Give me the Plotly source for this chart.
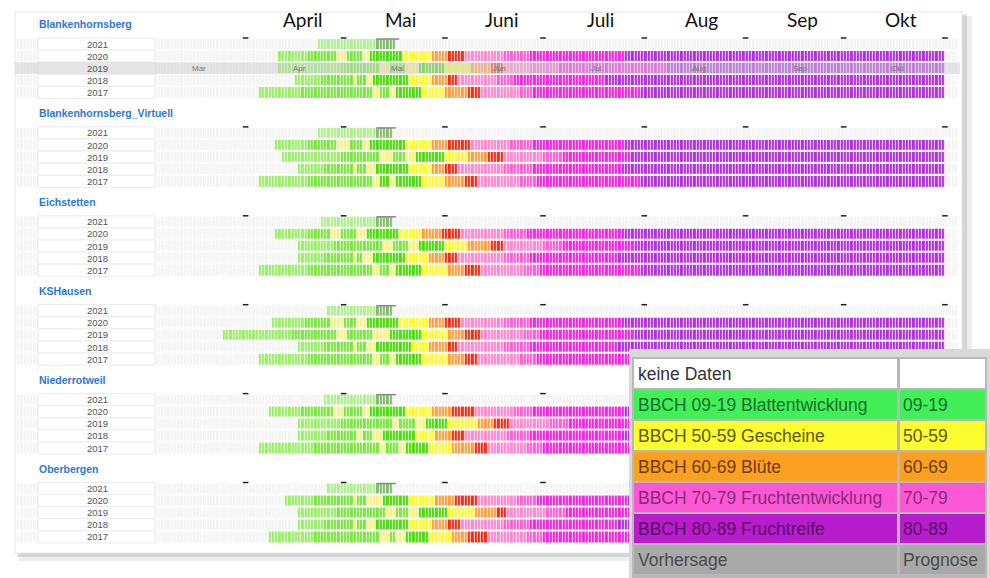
import plotly.graph_objects as go

W, H = 990, 578

# ---------------- data ----------------
STATIONS = ["Blankenhornsberg", "Blankenhornsberg_Virtuell", "Eichstetten",
            "KSHausen", "Niederrotweil", "Oberbergen"]
YEARS = ["2021", "2020", "2019", "2018", "2017"]
MONTHS_SHORT = ["Mar", "Apr", "Mai", "Jun", "Jul", "Aug", "Sep", "Okt"]
MONTH_LENGTHS = [31, 30, 31, 30, 31, 31, 30, 31]
TOP_MONTHS = ["April", "Mai", "Juni", "Juli", "Aug", "Sep", "Okt"]

# phase segments per year row: (start day counted from 1 March, phase code); last entry = end
blankenhornsberg = [
    [(53, "fg"), (71, "fc"), (77, None)],
    [(41, "lg"), (50, "g"), (59, "py"), (62, "g"), (67, "py"), (69, "bg"), (79, "y"), (88, "o"), (93, "r"), (98, "lp"), (110, "p"), (118, "m"), (147, "v"), (245, None)],
    [(41, "lg"), (60, "g"), (72, "py"), (75, "g"), (80, "py"), (84, "bg"), (92, "y"), (100, "o"), (106, "r"), (110, "lp"), (118, "p"), (127, "m"), (160, "v"), (245, None)],
    [(46, "lg"), (54, "g"), (64, "py"), (65, "g"), (68, "py"), (70, "bg"), (81, "y"), (88, "o"), (93, "r"), (96, "lp"), (108, "p"), (113, "m"), (141, "v"), (245, None)],
    [(35, "lg"), (48, "g"), (70, "py"), (72, "g"), (75, "py"), (77, "bg"), (85, "y"), (92, "o"), (99, "r"), (103, "lp"), (115, "p"), (119, "m"), (152, "v"), (245, None)],
]
blankenhornsberg_virtuell = [
    [(53, "fg"), (71, "fc"), (76, None)],
    [(40, "lg"), (50, "g"), (59, "py"), (63, "g"), (67, "py"), (69, "bg"), (80, "y"), (88, "o"), (93, "r"), (100, "lp"), (112, "p"), (119, "m"), (147, "v"), (245, None)],
    [(42, "lg"), (60, "g"), (72, "py"), (76, "g"), (80, "py"), (83, "bg"), (92, "y"), (99, "o"), (105, "r"), (110, "lp"), (122, "p"), (128, "m"), (149, "v"), (245, None)],
    [(47, "lg"), (55, "g"), (64, "py"), (65, "g"), (68, "py"), (71, "bg"), (81, "y"), (88, "o"), (92, "r"), (96, "lp"), (110, "p"), (119, "m"), (146, "v"), (245, None)],
    [(35, "lg"), (50, "g"), (70, "py"), (72, "bg"), (75, "py"), (77, "bg"), (85, "y"), (92, "o"), (98, "r"), (102, "lp"), (115, "p"), (120, "m"), (152, "v"), (245, None)],
]
eichstetten = [
    [(54, "fg"), (71, "fc"), (76, None)],
    [(40, "lg"), (50, "g"), (57, "py"), (60, "g"), (65, "py"), (68, "bg"), (78, "y"), (85, "o"), (91, "r"), (97, "lp"), (110, "p"), (117, "m"), (146, "v"), (245, None)],
    [(47, "lg"), (58, "g"), (73, "py"), (76, "g"), (81, "py"), (84, "bg"), (92, "y"), (99, "o"), (106, "r"), (110, "lp"), (122, "p"), (128, "m"), (150, "v"), (245, None)],
    [(47, "lg"), (55, "g"), (64, "py"), (65, "g"), (67, "py"), (70, "bg"), (80, "y"), (87, "o"), (92, "r"), (96, "lp"), (110, "p"), (118, "m"), (145, "v"), (245, None)],
    [(35, "lg"), (50, "g"), (70, "py"), (72, "g"), (75, "py"), (77, "bg"), (85, "y"), (93, "o"), (98, "r"), (103, "lp"), (116, "p"), (121, "m"), (152, "v"), (245, None)],
]
kshausen = [
    [(56, "fg"), (71, "fc"), (76, None)],
    [(39, "lg"), (49, "g"), (57, "py"), (61, "g"), (65, "py"), (68, "bg"), (78, "y"), (87, "o"), (92, "r"), (97, "lp"), (110, "p"), (118, "m"), (146, "v"), (245, None)],
    [(24, "lg"), (45, "g"), (59, "py"), (62, "g"), (70, "py"), (75, "bg"), (85, "y"), (93, "o"), (98, "r"), (103, "lp"), (116, "p"), (121, "m"), (150, "v"), (245, None)],
    [(47, "lg"), (55, "g"), (64, "py"), (65, "g"), (68, "py"), (71, "bg"), (82, "y"), (87, "o"), (93, "r"), (96, "lp"), (110, "p"), (118, "m"), (145, "v"), (245, None)],
    [(35, "lg"), (50, "g"), (70, "py"), (72, "g"), (75, "py"), (77, "bg"), (85, "y"), (93, "o"), (98, "r"), (102, "lp"), (115, "p"), (120, "m"), (152, "v"), (245, None)],
]
niederrotweil = [
    [(55, "fg"), (71, "fc"), (76, None)],
    [(38, "lg"), (48, "g"), (58, "py"), (61, "g"), (67, "py"), (69, "bg"), (80, "y"), (88, "o"), (94, "r"), (101, "lp"), (113, "p"), (119, "m"), (147, "v"), (245, None)],
    [(47, "lg"), (60, "g"), (76, "py"), (78, "g"), (83, "py"), (86, "bg"), (93, "y"), (102, "o"), (107, "r"), (112, "lp"), (124, "p"), (130, "m"), (152, "v"), (245, None)],
    [(47, "lg"), (56, "g"), (65, "py"), (67, "g"), (70, "py"), (73, "bg"), (83, "y"), (89, "o"), (94, "r"), (98, "lp"), (111, "p"), (118, "m"), (146, "v"), (245, None)],
    [(35, "lg"), (52, "g"), (72, "py"), (74, "g"), (78, "py"), (80, "bg"), (87, "y"), (94, "o"), (101, "r"), (105, "lp"), (117, "p"), (122, "m"), (153, "v"), (245, None)],
]
oberbergen = [
    [(56, "fg"), (71, "fc"), (76, None)],
    [(43, "lg"), (52, "g"), (64, "py"), (65, "g"), (68, "py"), (73, "bg"), (81, "y"), (89, "o"), (95, "r"), (102, "lp"), (114, "p"), (120, "m"), (148, "v"), (245, None)],
    [(47, "lg"), (59, "g"), (74, "py"), (77, "g"), (81, "py"), (84, "bg"), (93, "y"), (101, "o"), (108, "r"), (111, "lp"), (123, "p"), (129, "m"), (151, "v"), (245, None)],
    [(47, "lg"), (55, "g"), (64, "py"), (65, "g"), (68, "py"), (71, "bg"), (81, "y"), (88, "o"), (93, "r"), (97, "lp"), (110, "p"), (118, "m"), (145, "v"), (245, None)],
    [(38, "lg"), (52, "g"), (72, "py"), (75, "g"), (77, "py"), (80, "bg"), (87, "y"), (94, "o"), (99, "r"), (105, "lp"), (117, "p"), (122, "m"), (153, "v"), (245, None)],
]
STATION_ROWS = [blankenhornsberg, blankenhornsberg_virtuell, eichstetten,
                kshausen, niederrotweil, oberbergen]

LEGEND_LABELS = ["keine Daten", "BBCH 09-19 Blattentwicklung", "BBCH 50-59 Gescheine",
                 "BBCH 60-69 Blüte", "BBCH 70-79 Fruchtentwicklung", "BBCH 80-89 Fruchtreife",
                 "Vorhersage"]
LEGEND_CODES = ["", "09-19", "50-59", "60-69", "70-79", "80-89", "Prognose"]

# ---------------- styles ----------------
PHASE_COLORS = {
    "empty": "#f4f4f4",
    "lg": "#9ded6c", "g": "#7be640", "bg": "#4fdb0e", "py": "#fbf08a",
    "y": "#fdfa34", "o": "#ffa040", "r": "#ef3018", "lp": "#ff88d0",
    "p": "#ff5fd2", "m": "#f526e0", "v": "#b031de", "fg": "#b0ef90", "fc": "#86bb70",
}
CODE_ORDER = ["empty", "lg", "g", "bg", "py", "y", "o", "r", "lp", "p", "m", "v", "fg", "fc"]
LEGEND_FILL = ["#ffffff", "#43ef58", "#fcfc2e", "#fca021", "#fc58d6", "#b71dcc", "#a9a9a9"]
LEGEND_TEXT = ["#333333", "#17702a", "#5c5810", "#6c3c08", "#8a2a78", "#5a0c62", "#4a4a4a"]

DAY0_PX = 144.3
PX_PER_DAY = 3.268
X_RANGE = [-DAY0_PX / PX_PER_DAY, (W - DAY0_PX) / PX_PER_DAY]
D_MIN, D_MAX = -39, 249
BLOCK0, BLOCK_STEP, ROW_STEP = 44, 88.9, 12.1
FONT = "Liberation Sans, Arial, sans-serif"


def px(x):
    return x / W


n = len(CODE_ORDER)
colorscale = []
for i, c in enumerate(CODE_ORDER):
    colorscale.append([i / n, PHASE_COLORS[c]])
    colorscale.append([(i + 1) / n, PHASE_COLORS[c]])

days = list(range(D_MIN, D_MAX))
xs = [d + 0.5 for d in days]

fig = go.Figure()
shapes = []
annotations = []

# card + shadow
shapes.append(dict(type="rect", xref="paper", yref="y", x0=px(19), x1=px(972), y0=16, y1=561,
                   fillcolor="rgba(0,0,0,0.07)", line_width=0, layer="below"))
shapes.append(dict(type="rect", xref="paper", yref="y", x0=px(17), x1=px(967), y0=14, y1=557,
                   fillcolor="rgba(0,0,0,0.10)", line_width=0, layer="below"))
shapes.append(dict(type="rect", xref="paper", yref="y", x0=px(15), x1=px(962), y0=12, y1=553,
                   fillcolor="#ffffff", line=dict(color="#e6e6e6", width=1), layer="below"))

month_starts = [0]
for L in MONTH_LENGTHS:
    month_starts.append(month_starts[-1] + L)

for b, (name, rows) in enumerate(zip(STATIONS, STATION_ROWS)):
    top = BLOCK0 + BLOCK_STEP * b
    ys = [top + ROW_STEP * r for r in range(len(YEARS))]
    z = []
    for segs in rows:
        row = [0] * len(days)
        for (s, c), (e, _) in zip(segs[:-1], segs[1:]):
            for d in range(s, e):
                row[d - D_MIN] = CODE_ORDER.index(c)
        z.append(row)
    fig.add_trace(go.Heatmap(x=xs, y=ys, z=z, colorscale=colorscale, zmin=-0.5, zmax=n - 0.5,
                             showscale=False, xgap=0.8, ygap=2, hoverinfo="skip"))
    annotations.append(dict(x=px(37), y=top - 20, xref="paper", yref="y", text="<b>%s</b>" % name,
                            showarrow=False, xanchor="left", yanchor="middle",
                            font=dict(family=FONT, size=10.5, color="#2b79cf")))
    for r, yr in enumerate(YEARS):
        yc = ys[r]
        shapes.append(dict(type="rect", xref="paper", yref="y", x0=px(38), x1=px(155),
                           y0=yc - ROW_STEP / 2, y1=yc + ROW_STEP / 2, fillcolor="#ffffff",
                           line=dict(color="#ebebeb", width=1), layer="above"))
        annotations.append(dict(x=px(97), y=yc, xref="paper", yref="y", text=yr, showarrow=False,
                                xanchor="center", yanchor="middle",
                                font=dict(family=FONT, size=9.5, color="#555555")))
    fig.add_trace(go.Scatter(x=month_starts[1:], y=[top - 6] * (len(month_starts) - 1), mode="markers",
                             marker=dict(symbol="line-ew-open", size=4, color="#222222",
                                         line=dict(color="#222222", width=1.5)),
                             hoverinfo="skip", showlegend=False))
    fc = [(s, e) for (s, c), (e, _) in zip(rows[0][:-1], rows[0][1:]) if c == "fc"]
    for s, e in fc:
        shapes.append(dict(type="line", xref="x", yref="y", x0=s, x1=e + 1, y0=top - 5, y1=top - 5,
                           line=dict(color="#8a8a8a", width=1.5), layer="above"))

# hover band on Blankenhornsberg 2019
band_y = BLOCK0 + ROW_STEP * 2
shapes.append(dict(type="rect", xref="paper", yref="y", x0=px(15), x1=px(960), y0=band_y - 6, y1=band_y + 6,
                   fillcolor="rgba(205,205,205,0.5)", line_width=0, layer="above"))
for i, m in enumerate(MONTHS_SHORT):
    annotations.append(dict(x=month_starts[i] + 14, y=band_y, xref="x", yref="y", text=m, showarrow=False,
                            xanchor="left", yanchor="middle",
                            font=dict(family=FONT, size=8, color="#7a7a7a")))

# big month labels on top
for i, m in enumerate(TOP_MONTHS):
    annotations.append(dict(x=month_starts[i + 1] + 17.5, y=19, xref="x", yref="y", text=m, showarrow=False,
                            xanchor="center", yanchor="middle",
                            font=dict(family="Lato, Open Sans", size=19, color="#111111")))

# legend table
shapes.append(dict(type="rect", xref="paper", yref="y", x0=px(629), x1=px(990), y0=349, y1=578,
                   fillcolor="#d9d9d9", line_width=0, layer="above"))
shapes.append(dict(type="rect", xref="paper", yref="y", x0=px(632), x1=px(987), y0=357, y1=578,
                   fillcolor="#b8b8b8", line_width=0, layer="above"))
row_h = 31.0
for i, (lab, code) in enumerate(zip(LEGEND_LABELS, LEGEND_CODES)):
    y0 = 359 + row_h * i
    y1 = y0 + row_h - 2
    shapes.append(dict(type="rect", xref="paper", yref="y", x0=px(634), x1=px(897), y0=y0, y1=y1,
                       fillcolor=LEGEND_FILL[i], line_width=0, layer="above"))
    shapes.append(dict(type="rect", xref="paper", yref="y", x0=px(900), x1=px(985), y0=y0, y1=y1,
                       fillcolor=LEGEND_FILL[i], line_width=0, layer="above"))
    annotations.append(dict(x=px(636), y=(y0 + y1) / 2, xref="paper", yref="y", text=lab, showarrow=False,
                            xanchor="left", yanchor="middle",
                            font=dict(family=FONT, size=17.5, color=LEGEND_TEXT[i])))
    if code:
        annotations.append(dict(x=px(901), y=(y0 + y1) / 2, xref="paper", yref="y", text=code, showarrow=False,
                                xanchor="left", yanchor="middle",
                                font=dict(family=FONT, size=17.5, color=LEGEND_TEXT[i])))

fig.update_layout(
    width=W, height=H, margin=dict(l=0, r=0, t=0, b=0, pad=0),
    paper_bgcolor="#ffffff", plot_bgcolor="rgba(0,0,0,0)",
    xaxis=dict(range=X_RANGE, visible=False, fixedrange=True),
    yaxis=dict(range=[H, 0], visible=False, fixedrange=True),
    shapes=shapes, annotations=annotations, showlegend=False,
)
fig.write_html("out.html", config={"displayModeBar": False},
               post_script="document.body.style.margin='0px';document.body.style.overflow='hidden';")
